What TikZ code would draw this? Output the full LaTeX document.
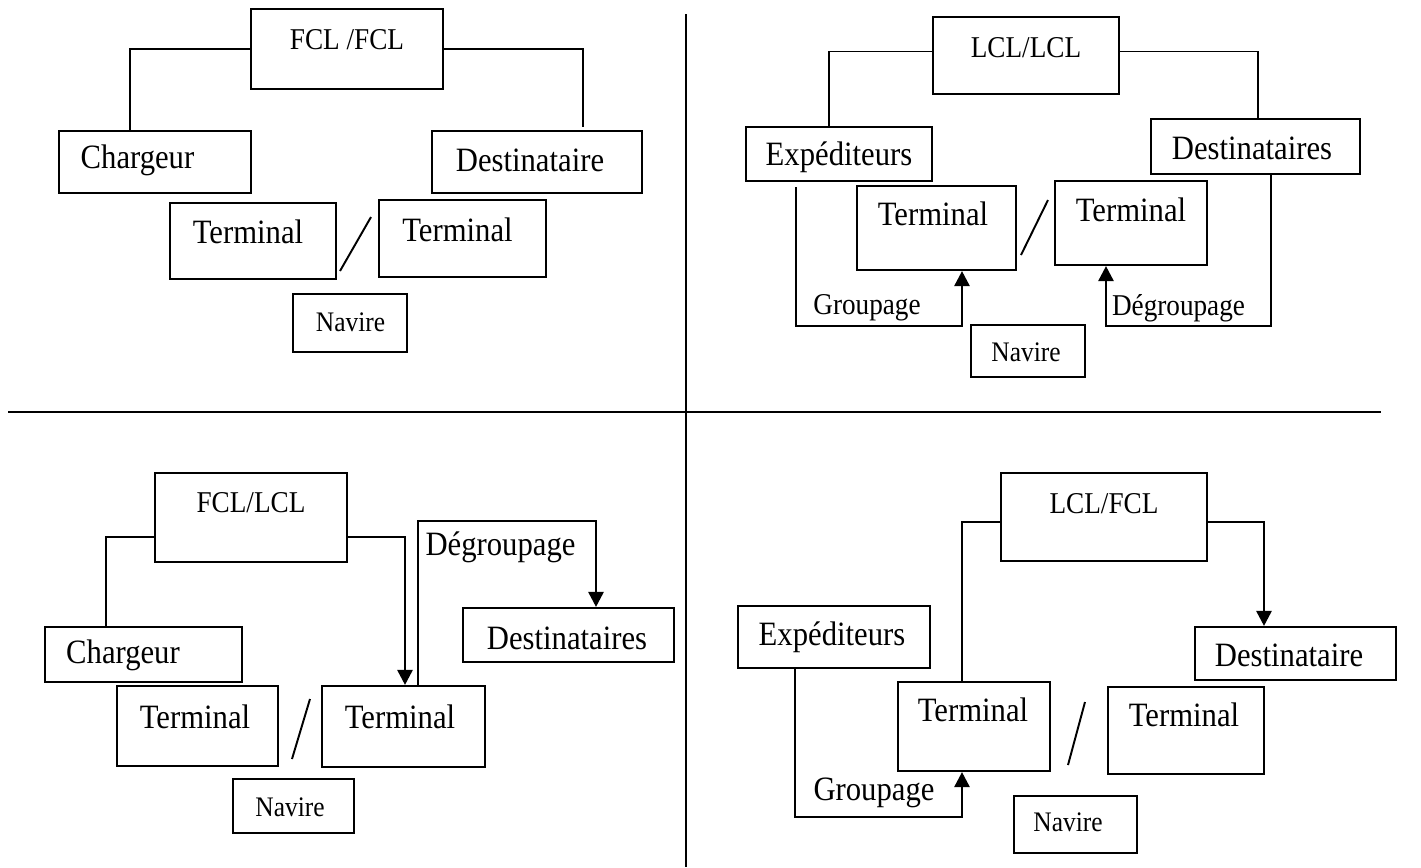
\documentclass[tikz,border=0pt]{standalone}
\usepackage{fontspec}
\setmainfont{Liberation Serif}[FakeStretch=0.9]
\usepackage{tikz}
\usetikzlibrary{positioning, arrows.meta, calc}

\begin{document}
\begin{tikzpicture}[
    x=0.02cm, y=-0.02cm,
    boxnode/.style 2 args={rectangle, draw=black, line width=1.2pt, inner sep=0pt, minimum width=#1*0.02cm, minimum height=#2*0.02cm},
    labelnode/.style={inner sep=0pt, font=\fontsize{19.4}{22}\selectfont},
    headnode/.style={inner sep=0pt, font=\fontsize{17.2}{20}\selectfont},
    shipnode/.style={inner sep=0pt, font=\fontsize{16.1}{19}\selectfont},
    linkline/.style={line width=1.1pt},
    arrowline/.style={line width=1.5pt, -{Triangle[length=0.3cm, width=0.3cm]}},
]
\useasboundingbox (0,0) rectangle (1421,867);

\draw[line width=1.2pt] (686,14) -- (686,867);
\draw[line width=1.2pt] (8,412) -- (1381,412);

\node[boxnode={192}{80}](fcl1) at (347,49){};
\node[boxnode={192}{62}](ch1) at (155,162){};
\node[boxnode={210}{62}](de1) at (537,162){};
\node[boxnode={166}{76}](tl1) at (253,241){};
\node[boxnode={167}{77}](tr1) at (462.5,238.5){};
\node[boxnode={114}{58}](nv1) at (350,323){};
\node[headnode](fcl1t) at (347,40){FCL /FCL};
\node[labelnode](ch1t) at (137.5,160){Chargeur};
\node[labelnode](de1t) at (530,160){Destinataire};
\node[labelnode](tl1t) at (248,232){Terminal};
\node[labelnode](tr1t) at (457.5,230){Terminal};
\node[shipnode](nv1t) at (350.5,322){Navire};
\draw[linkline] (fcl1.west) -| ($(ch1.north)+(-25,0)$);
\draw[linkline] (fcl1.east) -| ($(de1.north)+(46,-3)$);
\draw[linkline] (340,271) -- (371,217);

\node[boxnode={186}{77}](lcl2) at (1026,55.5){};
\node[boxnode={186}{54}](ex2) at (839,154){};
\node[boxnode={209}{55}](ds2) at (1255.5,146.5){};
\node[boxnode={159}{84}](tl2) at (936.5,228){};
\node[boxnode={152}{84}](tr2) at (1131,223){};
\node[boxnode={114}{52}](nv2) at (1028,351){};
\node[headnode](lcl2t) at (1026,48){LCL/LCL};
\node[labelnode](ex2t) at (839,157){Expéditeurs};
\node[labelnode](ds2t) at (1252,148){Destinataires};
\node[labelnode](tl2t) at (933,214){Terminal};
\node[labelnode](tr2t) at (1131,210){Terminal};
\node[shipnode](nv2t) at (1026,352){Navire};
\node[headnode](gp2t) at (867,308){Groupage};
\node[headnode](dg2t) at (1178.5,308){Dégroupage};
\draw[linkline] ($(lcl2.west)+(0,-4)$) -| ($(ex2.north)+(-10,0)$);
\draw[linkline] ($(lcl2.east)+(0,-4)$) -| ($(ds2.north)+(2.5,0)$);
\draw[arrowline] ($(ex2.south)+(-43,5)$) |- ($(tl2.south)+(25.5,55)$) -- ($(tl2.south)+(25.5,0)$);
\draw[arrowline] ($(ds2.south)+(15.5,0)$) |- ($(tr2.south)+(-25,60)$) -- ($(tr2.south)+(-25,0)$);
\draw[linkline] (1021,255) -- (1048,200);

\node[boxnode={192}{89}](fl3) at (251,517.5){};
\node[boxnode={197}{55}](ch3) at (143.5,654.5){};
\node[boxnode={161}{80}](tl3) at (197.5,726){};
\node[boxnode={163}{81}](tr3) at (403.5,726.5){};
\node[boxnode={211}{54}](ds3) at (568.5,635){};
\node[boxnode={121}{54}](nv3) at (293.5,806){};
\node[headnode](fl3t) at (251,503){FCL/LCL};
\node[labelnode](ch3t) at (123,655){Chargeur};
\node[labelnode](tl3t) at (195,717){Terminal};
\node[labelnode](tr3t) at (400,717){Terminal};
\node[labelnode](ds3t) at (567,638){Destinataires};
\node[shipnode](nv3t) at (290,807){Navire};
\node[labelnode](dg3t) at (500.5,547){Dégroupage};
\draw[linkline] ($(fl3.west)+(0,19.5)$) -| ($(ch3.north)+(-37.5,0)$);
\draw[arrowline] ($(fl3.east)+(0,19.5)$) -| ($(tr3.north)+(1.5,0)$);
\draw[arrowline] ($(tr3.north)+(14.5,0)$) |- ($(ds3.north)+(27.5,-86)$) -- ($(ds3.north)+(27.5,0)$);
\draw[linkline] (292,759) -- (310,699);

\node[boxnode={206}{88}](lf4) at (1104,517){};
\node[boxnode={192}{62}](ex4) at (834,637){};
\node[boxnode={201}{53}](dt4) at (1295.5,653.5){};
\node[boxnode={152}{89}](tl4) at (974,726.5){};
\node[boxnode={156}{87}](tr4) at (1186,730.5){};
\node[boxnode={123}{57}](nv4) at (1075.5,824.5){};
\node[headnode](lf4t) at (1104,504){LCL/FCL};
\node[labelnode](ex4t) at (832,637){Expéditeurs};
\node[labelnode](dt4t) at (1289,655){Destinataire};
\node[labelnode](tl4t) at (973,710){Terminal};
\node[labelnode](tr4t) at (1184,715){Terminal};
\node[shipnode](nv4t) at (1068,822){Navire};
\node[labelnode](gp4t) at (874,793){Groupage};
\draw[linkline] ($(lf4.west)+(0,5)$) -| ($(tl4.north)+(-12,0)$);
\draw[arrowline] ($(lf4.east)+(0,5)$) -| ($(dt4.north)+(-31.5,0)$);
\draw[arrowline] ($(ex4.south)+(-39,0)$) |- ($(tl4.south)+(-12,45)$) -- ($(tl4.south)+(-12,0)$);
\draw[linkline] (1068,765) -- (1085,702);
\end{tikzpicture}
\end{document}
